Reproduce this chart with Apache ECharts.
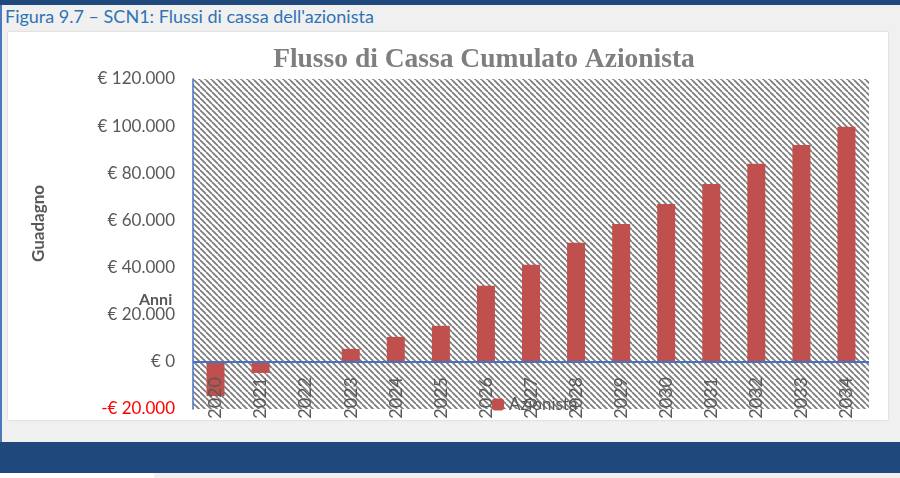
<!DOCTYPE html>
<html>
<head>
<meta charset="utf-8">
<script src="https://cdn.jsdelivr.net/npm/echarts@6/dist/echarts.min.js"></script>
<style>
  body { margin: 0; width: 900px; height: 478px; background: #f0f0f0; position: relative; overflow: hidden; }
  .topbar { position: absolute; left: 0; top: 0; width: 900px; height: 5px; background: #1f497d; }
  .leftline { position: absolute; left: 0; top: 5px; width: 2px; height: 437px; background: #4a78b8; }
  .caption { position: absolute; left: 5px; top: 5px; font: 18px Lato, sans-serif; color: #2e74b5; white-space: nowrap; }
  .box { position: absolute; left: 8px; top: 32px; width: 880px; height: 388px; background: #fff; box-shadow: 0 0 2px #c8c8c8; }
  #chart { width: 880px; height: 388px; }
  .band { position: absolute; left: 0; top: 442px; width: 900px; height: 31px; background: #1f497d; }
  .patch { position: absolute; left: 0; top: 473px; width: 154px; height: 5px; background: #fff; }
</style>
</head>
<body>
<div class="topbar"></div>
<div class="leftline"></div>
<div class="caption">Figura 9.7 – SCN1: Flussi di cassa dell'azionista</div>
<div class="box"><div id="chart"></div></div>
<div class="band"></div>
<div class="patch"></div>

<script>
const years = ['2020', '2021', '2022', '2023', '2024', '2025', '2026', '2027',
  '2028', '2029', '2030', '2031', '2032', '2033', '2034']
const cashFlow = [-14500, -4700, 300, 5500, 10600, 15300, 32300, 41200,
  50500, 58500, 67000, 75500, 84000, 92000, 99700]

// hatched plot background
const makeHatch = () => {
  const s = 6
  const c = document.createElement('canvas')
  c.width = s
  c.height = s
  const ctx = c.getContext('2d')
  ctx.fillStyle = '#ffffff'
  ctx.fillRect(0, 0, s, s)
  ctx.strokeStyle = '#7a7a7a'
  ctx.lineWidth = 1.7
  for (let k = -s; k <= s; k += s) {
    ctx.beginPath()
    ctx.moveTo(k, 0)
    ctx.lineTo(k + s, s)
    ctx.stroke()
  }
  return c
}

const fmtEuro = (v) => {
  const n = Math.abs(v).toString().replace(/\B(?=(\d{3})+(?!\d))/g, '.')
  return v < 0 ? '{neg|-€ ' + n + '}' : '€ ' + n
}

const chart = echarts.init(document.getElementById('chart'))
chart.setOption({
  animation: false,
  textStyle: { fontFamily: 'Lato, sans-serif' },
  title: {
    text: 'Flusso di Cassa Cumulato Azionista',
    left: 471,
    top: 9,
    textAlign: 'center',
    textStyle: { fontFamily: 'Liberation Serif, serif', fontWeight: 'bold', fontSize: 27.5, color: '#7f7f7f' }
  },
  legend: {
    left: 479,
    top: 359,
    itemWidth: 12,
    itemHeight: 12,
    itemGap: 4,
    textStyle: { fontSize: 17, color: '#595959' },
    data: ['Azionista']
  },
  graphic: [
    {
      type: 'text',
      left: 22,
      top: 153,
      rotation: Math.PI / 2,
      style: { text: 'Guadagno', font: 'bold 17px Lato, sans-serif', fill: '#595959' }
    },
    {
      type: 'text',
      left: 131,
      top: 260,
      style: { text: 'Anni', font: 'bold 16px Lato, sans-serif', fill: '#595959' }
    }
  ],
  grid: {
    left: 185,
    right: 19,
    top: 47,
    bottom: 11,
    outerBoundsMode: 'none',
    show: true,
    borderWidth: 0,
    backgroundColor: { image: makeHatch(), repeat: 'repeat' }
  },
  xAxis: {
    type: 'category',
    data: years,
    z: 5,
    axisLine: { show: false, onZero: false },
    axisTick: { show: false },
    axisLabel: { rotate: 90, margin: -32, fontSize: 18, color: '#595959', interval: 0, hideOverlap: false }
  },
  yAxis: {
    type: 'value',
    min: -20000,
    max: 120000,
    interval: 20000,
    axisLine: { show: true, lineStyle: { color: '#4472c4', width: 1.5 } },
    axisTick: { show: false },
    splitLine: { show: false },
    axisLabel: {
      margin: 18,
      fontSize: 17,
      color: '#595959',
      formatter: fmtEuro,
      rich: { neg: { fontSize: 17, color: '#ff0000' } }
    }
  },
  series: [
    {
      name: 'Azionista',
      type: 'bar',
      barWidth: 18,
      itemStyle: { color: '#c0504d' },
      data: cashFlow,
      markLine: {
        silent: true,
        symbol: 'none',
        label: { show: false },
        lineStyle: { color: '#4472c4', width: 2, type: 'solid' },
        data: [{ yAxis: 0 }]
      }
    }
  ]
})
</script>
</body>
</html>
